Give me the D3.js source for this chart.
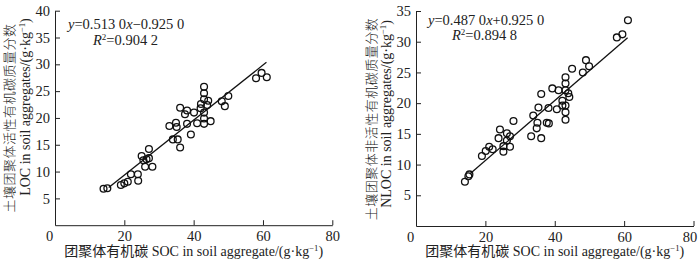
<!DOCTYPE html>
<html>
<head>
<meta charset="utf-8">
<script src="https://cdn.jsdelivr.net/npm/d3@7"></script>
<style>
body { margin: 0; background: #fff; }
</style>
</head>
<body>
<svg id="chart" width="700" height="262"></svg>
<script>
// SOC (x) vs LOC / NLOC (y), g/kg
var xTicks = [0, 20, 40, 60, 80];
var locTicks = [5, 10, 15, 20, 25, 30, 35, 40];
var nlocTicks = [5, 10, 15, 20, 25, 30, 35];

var locPoints = [
    [14.0, 6.8], [15.1, 6.9], [19.0, 7.5], [20.0, 7.8], [21.0, 8.1], [21.9, 9.5],
    [23.9, 9.5], [24.0, 8.3], [25.0, 12.9], [25.5, 12.1], [26.4, 12.3], [27.1, 12.5],
    [26.0, 10.9], [28.1, 10.9], [27.1, 14.2], [33.0, 18.5], [34.9, 19.1], [35.1, 18.3],
    [34.0, 16.0], [35.4, 16.0], [36.1, 14.5], [36.1, 21.9], [38.1, 21.4], [37.5, 20.7],
    [40.1, 21.0], [38.1, 18.9], [39.2, 16.9], [41.0, 19.0], [43.0, 25.8], [43.0, 24.6],
    [43.0, 23.5], [44.2, 23.2], [42.1, 22.6], [43.9, 22.4], [42.0, 21.8], [43.0, 21.0],
    [43.0, 19.9], [43.0, 18.9], [44.9, 19.4], [48.1, 23.1], [50.0, 24.1], [49.0, 22.2],
    [58.0, 27.4], [59.6, 28.4], [61.1, 27.6]
];

var nlocPoints = [
    [14.1, 7.2], [15.1, 8.1], [15.4, 8.4], [19.0, 11.4], [20.1, 12.2], [21.1, 12.9],
    [22.1, 12.5], [23.8, 14.3], [24.2, 15.7], [25.2, 12.1], [25.2, 13.0], [26.2, 15.1],
    [26.2, 13.9], [27.1, 14.6], [27.1, 12.9], [28.1, 17.1], [33.2, 14.6], [33.8, 18.0],
    [34.8, 15.9], [35.0, 16.8], [35.3, 19.3], [36.1, 14.3], [36.1, 21.5], [37.7, 16.8],
    [38.3, 16.7], [38.2, 19.2], [39.3, 22.4], [40.6, 19.0], [41.1, 22.1], [42.2, 20.4],
    [42.2, 19.6], [43.1, 24.2], [43.1, 23.2], [43.1, 22.1], [43.9, 21.6], [44.2, 21.0],
    [43.1, 19.6], [43.1, 18.5], [43.1, 17.3], [45.0, 25.6], [48.1, 25.0], [49.0, 27.0],
    [49.9, 26.0], [57.9, 30.7], [59.5, 31.2], [61.1, 33.5]
];

// regression from the printed equations, drawn over this SOC span
var locFit = [0.513, -0.925];
var nlocFit = [0.487, 0.925];
var fitSpan = [15.5, 61];

var xTitle = '团聚体有机碳 SOC in soil aggregate/(g·kg';
var locTitleCn = '土壤团聚体活性有机碳质量分数';
var locTitleEn = 'LOC in soil aggregates/(g·kg';
var nlocTitleCn = '土壤团聚体非活性有机碳质量分数';
var nlocTitleEn = 'NLOC in soil aggregates/(g·kg';

const SERIF = '"Liberation Serif", "Times New Roman", "Noto Sans CJK SC", serif';
const INK = '#222';

var svg = d3.select('#chart');

var addUnitLabel = function (text, str) {
    text.append('tspan').text(str);
    text.append('tspan').attr('font-size', '0.62em').attr('dy', '-0.55em').text('−1');
    text.append('tspan').attr('dy', '0.34em').text(')');
};

var drawPanel = function (opt) {
    var x = d3.scaleLinear().domain([0, 80]).range(opt.xRange);
    var y = d3.scaleLinear().domain(opt.yDomain).range(opt.yRange);
    var g = svg.append('g');

    var gx = g.append('g')
        .attr('transform', 'translate(0,' + y(0) + ')')
        .call(d3.axisBottom(x).tickValues(xTicks).tickSizeInner(-5).tickSizeOuter(0).tickPadding(6));
    gx.selectAll('.tick').filter(function (d) { return d === 0; }).select('line').remove();
    gx.selectAll('.tick').filter(function (d) { return d === 0; }).select('text').attr('dx', -6);
    gx.selectAll('.tick').filter(function (d) { return d === 80; }).select('text').attr('dx', opt.lastDx || 0);

    var gy = g.append('g')
        .attr('transform', 'translate(' + x(0) + ',0)')
        .call(d3.axisLeft(y).tickValues(opt.yTicks).tickSizeInner(-5).tickSizeOuter(0).tickPadding(5));

    [gx, gy].forEach(function (a) {
        a.attr('font-family', SERIF).attr('font-size', 14.5);
        a.selectAll('path, line').attr('stroke', INK).attr('stroke-width', 1);
        a.selectAll('text').attr('fill', INK);
    });

    var line = d3.line()
        .x(function (d) { return x(d); })
        .y(function (d) { return y(opt.fit[0] * d + opt.fit[1]); });
    g.append('path')
        .datum(fitSpan)
        .attr('d', line)
        .attr('fill', 'none')
        .attr('stroke', '#111')
        .attr('stroke-width', 1.3);

    g.selectAll('circle')
        .data(opt.points)
        .enter()
        .append('circle')
        .attr('cx', function (d) { return x(d[0]); })
        .attr('cy', function (d) { return y(d[1]); })
        .attr('r', 3.4)
        .attr('fill', 'none')
        .attr('stroke', '#111')
        .attr('stroke-width', 1.3);

    // equation
    var eq = g.append('text')
        .attr('x', opt.eqPos[0]).attr('y', opt.eqPos[1])
        .attr('font-family', SERIF).attr('font-size', 14.5).attr('fill', INK);
    eq.append('tspan').attr('font-style', 'italic').text('y');
    eq.append('tspan').text('=' + opt.eqText[0]);
    eq.append('tspan').attr('font-style', 'italic').text('x');
    eq.append('tspan').text(opt.eqText[1]);

    var r2 = g.append('text')
        .attr('x', opt.r2Pos[0]).attr('y', opt.r2Pos[1])
        .attr('font-family', SERIF).attr('font-size', 14.5).attr('fill', INK);
    r2.append('tspan').attr('font-style', 'italic').text('R');
    r2.append('tspan').attr('font-size', 9).attr('dy', -5).text('2');
    r2.append('tspan').attr('dy', 5).text('=' + opt.r2);

    // axis titles
    var xt = g.append('text')
        .attr('x', (opt.xRange[0] + opt.xRange[1]) / 2).attr('y', 256)
        .attr('text-anchor', 'middle')
        .attr('font-family', SERIF).attr('font-size', 14).attr('fill', INK);
    addUnitLabel(xt, xTitle);

    g.append('text')
        .attr('transform', 'translate(' + opt.cnPos[0] + ',' + opt.cnPos[1] + ') rotate(-90)')
        .attr('text-anchor', 'middle')
        .attr('font-family', '"Noto Sans CJK SC", sans-serif')
        .attr('font-size', 13).attr('font-weight', 300)
        .attr('letter-spacing', 0.5).attr('fill', INK)
        .text(opt.cnTitle);

    var yt = g.append('text')
        .attr('transform', 'translate(' + opt.enPos[0] + ',' + opt.enPos[1] + ') rotate(-90)')
        .attr('text-anchor', 'middle')
        .attr('font-family', SERIF).attr('font-size', 14).attr('fill', INK);
    addUnitLabel(yt, opt.enTitle);
};

drawPanel({
    xRange: [55, 332.3], yDomain: [0, 40], yRange: [225.2, 10.7], yTicks: locTicks,
    points: locPoints, fit: locFit,
    eqPos: [68, 29], eqText: ['0.513 0', '−0.925 0'],
    r2Pos: [93, 45], r2: '0.904 2',
    cnTitle: locTitleCn, cnPos: [13.5, 118],
    enTitle: locTitleEn, enPos: [30, 107]
});

drawPanel({
    xRange: [416, 693.5], yDomain: [0, 35], yRange: [226, 11], yTicks: nlocTicks,
    points: nlocPoints, fit: nlocFit, lastDx: -4,
    eqPos: [428, 25], eqText: ['0.487 0', '+0.925 0'],
    r2Pos: [452, 40], r2: '0.894 8',
    cnTitle: nlocTitleCn, cnPos: [375.5, 119],
    enTitle: nlocTitleEn, enPos: [391, 114]
});
</script>
</body>
</html>
